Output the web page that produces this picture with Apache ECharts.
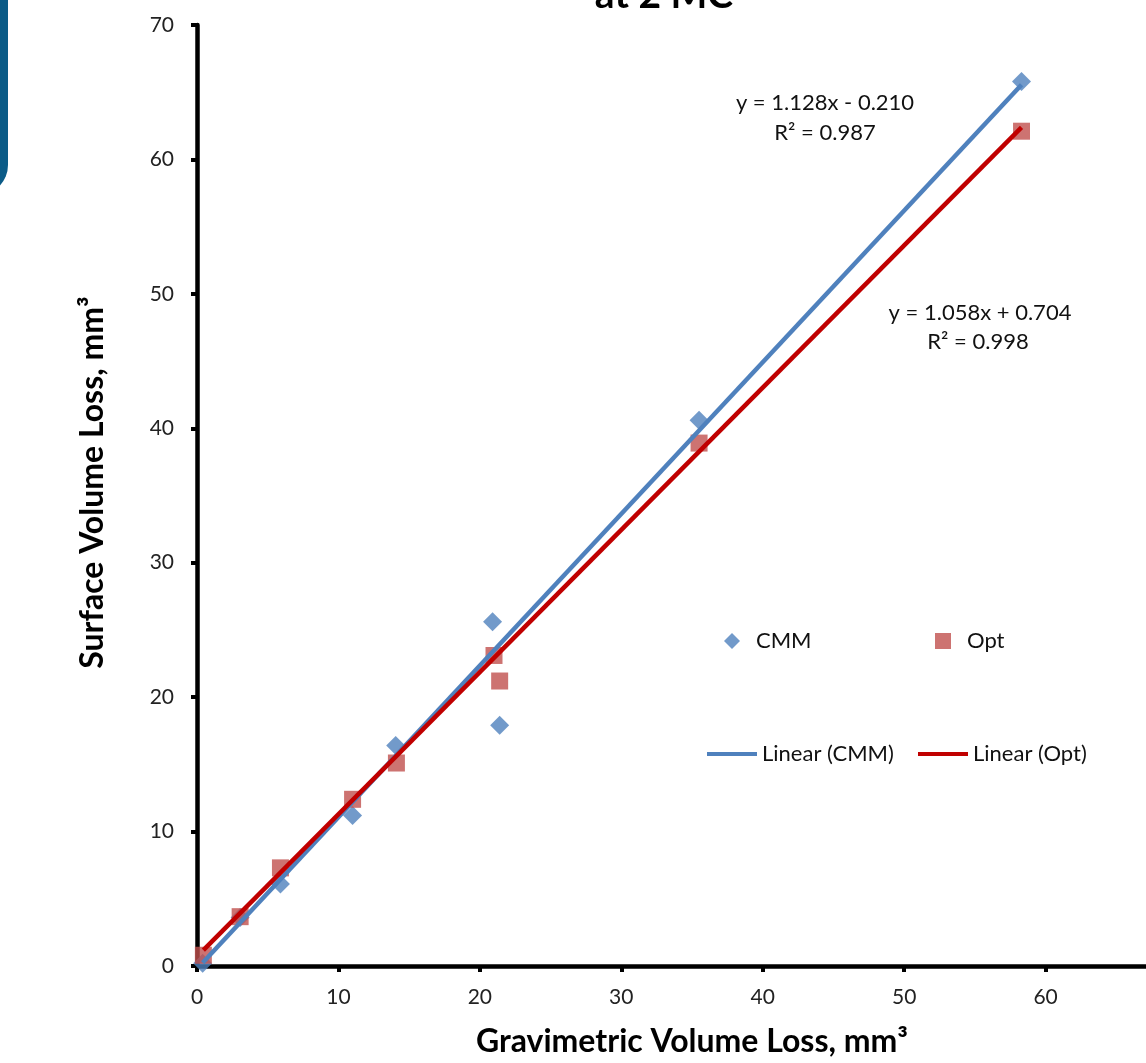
<!DOCTYPE html>
<html><head><meta charset="utf-8">
<script src="https://cdn.jsdelivr.net/npm/echarts@6/dist/echarts.min.js"></script>
<style>html,body{margin:0;padding:0;background:#fff}#c{width:1146px;height:1063px}</style>
</head><body><div id="c"></div>
<script>
// ---- data ----
const cmmX = [0.4, 3.05, 5.9, 11.0, 14.05, 20.9, 21.4, 35.5, 58.3];
const cmmY = [0.2, 3.6, 6.1, 11.2, 16.4, 25.6, 17.9, 40.6, 65.8];
const optX = [0.45, 3.05, 5.9, 11.0, 14.1, 21.0, 21.4, 35.5, 58.3];
const optY = [0.8, 3.67, 7.3, 12.4, 15.1, 23.1, 21.2, 38.9, 62.1];
// trendline end points (as drawn)
const cmmFitX = [0.4, 58.3];
const cmmFitY = [0.24, 65.55];
const optFitX = [0.45, 58.3];
const optFitY = [1.18, 62.39];
const xTickLabels = ['0', '10', '20', '30', '40', '50', '60'];
const yTickLabels = ['0', '10', '20', '30', '40', '50', '60', '70'];
const cmmEquation = ['y = 1.128x - 0.210', 'R² = 0.987'];
const optEquation = ['y = 1.058x + 0.704', 'R² = 0.998'];
const titleText = 'at 2 MC';
const xTitle = 'Gravimetric Volume Loss, mm³';
const yTitle = 'Surface Volume Loss, mm³';

const FONT = 'Lato';
const pairs = (xs, ys) => xs.map((x, i) => [x, ys[i]]);

const chart = echarts.init(document.getElementById('c'), null, {renderer: 'canvas'});
const axisCommon = {
  type: 'value', min: 0, max: 70, interval: 10,
  splitLine: {show: false},
  axisLine: {show: true, onZero: false, lineStyle: {color: '#000', width: 4.5}},
  axisTick: {show: true, inside: false, length: 6, lineStyle: {color: '#000', width: 4}},
  nameLocation: 'middle'
};
const nameStyle = {fontFamily: FONT, fontWeight: 'bold', fontSize: 32, color: '#000'};
const legendText = {fontFamily: FONT, fontSize: 22, color: '#111', lineHeight: 26};
const option = {
  backgroundColor: '#fff',
  animation: false,
  grid: {left: 197, width: 990, top: 25, height: 941, containLabel: false, outerBoundsMode: 'none'},
  xAxis: Object.assign({}, axisCommon, {
    name: xTitle, nameGap: 60, nameTextStyle: nameStyle,
    axisLabel: {margin: 21, fontFamily: FONT, fontSize: 21, color: '#222',
      formatter: v => { const s = String(v); return xTickLabels.indexOf(s) >= 0 ? s : ''; }}
  }),
  yAxis: Object.assign({}, axisCommon, {
    name: yTitle, nameGap: 88, nameTextStyle: Object.assign({padding: [0, 0, 0, 26]}, nameStyle),
    axisLabel: {margin: 23, fontFamily: FONT, fontSize: 21, color: '#222',
      formatter: v => { const s = String(v); return yTickLabels.indexOf(s) >= 0 ? s : ''; }}
  }),
  legend: [
    {data: [{name: 'CMM', icon: 'diamond'}], left: 719, top: 623, itemWidth: 16, itemHeight: 16,
     selectedMode: false, textStyle: Object.assign({padding: [0, 0, 0, 11]}, legendText)},
    {data: [{name: 'Opt', icon: 'rect'}], left: 930, top: 623, itemWidth: 16, itemHeight: 16,
     selectedMode: false, textStyle: Object.assign({padding: [0, 0, 0, 11]}, legendText)},
    {data: [{name: 'Linear (CMM)', icon: 'rect'}], left: 702, top: 736, itemWidth: 50, itemHeight: 4,
     selectedMode: false, textStyle: legendText},
    {data: [{name: 'Linear (Opt)', icon: 'rect'}], left: 913, top: 736, itemWidth: 50, itemHeight: 4,
     selectedMode: false, textStyle: legendText}
  ],
  series: [
    {name: 'CMM', type: 'scatter', data: pairs(cmmX, cmmY), symbol: 'diamond', symbolSize: 19,
     itemStyle: {color: '#4f81bd'}, z: 2},
    {name: 'Opt', type: 'scatter', data: pairs(optX, optY), symbol: 'rect', symbolSize: 17,
     itemStyle: {color: '#c0504d'}, z: 3},
    {name: 'Linear (CMM)', type: 'line', data: pairs(cmmFitX, cmmFitY), showSymbol: false, symbol: 'none',
     lineStyle: {color: '#4f81bd', width: 4.5}, itemStyle: {color: '#4f81bd'}, z: 4},
    {name: 'Linear (Opt)', type: 'line', data: pairs(optFitX, optFitY), showSymbol: false, symbol: 'none',
     lineStyle: {color: '#c00000', width: 4.5}, itemStyle: {color: '#c00000'}, z: 5}
  ],
  graphic: [
    {type: 'rect', left: -52, top: -30, shape: {width: 60, height: 225, r: 30},
     style: {fill: '#0b5b87'}, z: 10},
    {type: 'text', x: 664, y: -5, style: {text: titleText, fontFamily: FONT, fontWeight: 'bold', fontSize: 39,
     fill: '#000', align: 'center', verticalAlign: 'middle'}},
    {type: 'text', x: 825, y: 103, style: {text: cmmEquation[0], fontFamily: FONT, fontSize: 22, fill: '#111', align: 'center', verticalAlign: 'middle'}},
    {type: 'text', x: 825, y: 133, style: {text: cmmEquation[1], fontFamily: FONT, fontSize: 22, fill: '#111', align: 'center', verticalAlign: 'middle'}},
    {type: 'text', x: 980, y: 313, style: {text: optEquation[0], fontFamily: FONT, fontSize: 22, fill: '#111', align: 'center', verticalAlign: 'middle'}},
    {type: 'text', x: 978, y: 342, style: {text: optEquation[1], fontFamily: FONT, fontSize: 22, fill: '#111', align: 'center', verticalAlign: 'middle'}}
  ]
};
chart.setOption(option);
</script></body></html>
